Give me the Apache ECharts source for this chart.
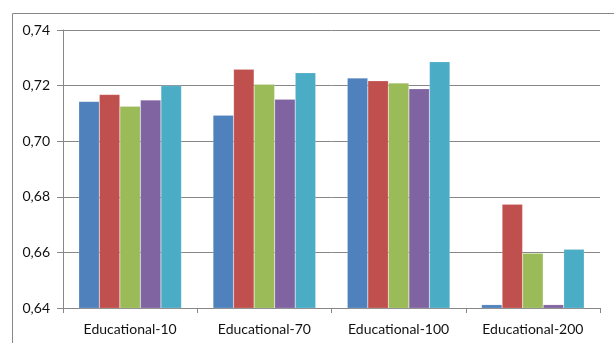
<!DOCTYPE html>
<html>
<head>
<meta charset="utf-8">
<script src="https://cdn.jsdelivr.net/npm/echarts@6/dist/echarts.min.js"></script>
<style>
  html, body { margin: 0; padding: 0; background: #fff; }
  #chart { width: 614px; height: 343px; }
</style>
</head>
<body>
<div id="chart"></div>
<script>
// Category labels along the x axis
const categories = ['Educational-10', 'Educational-70', 'Educational-100', 'Educational-200'];

// One value per category for each of the five series
const series1 = [0.7143, 0.7093, 0.7227, 0.6412];
const series2 = [0.7168, 0.7259, 0.7217, 0.6773];
const series3 = [0.7126, 0.7205, 0.7209, 0.6597];
const series4 = [0.7148, 0.7151, 0.7189, 0.6412];
const series5 = [0.7200, 0.7246, 0.7286, 0.6611];

const seriesNames = ['Serie 1', 'Serie 2', 'Serie 3', 'Serie 4', 'Serie 5'];
const seriesValues = [series1, series2, series3, series4, series5];
const seriesColors = ['#4F81BD', '#C0504D', '#9BBB59', '#8064A2', '#4BACC6'];

// Value axis range and step
const yMin = 0.64;
const yMax = 0.74;
const yStep = 0.02;

const chart = echarts.init(document.getElementById('chart'), null, { renderer: 'canvas' });

const font = 'Lato, "Open Sans", sans-serif';

chart.setOption({
  animation: false,
  backgroundColor: '#ffffff',
  textStyle: { fontFamily: font },
  graphic: [{
    type: 'rect',
    shape: { x: 12.5, y: 13.5, width: 700, height: 400 },
    style: { fill: 'none', stroke: '#878787', lineWidth: 1 },
    silent: true
  }],
  grid: { left: 63, right: 14, top: 30, bottom: 35, containLabel: false },
  xAxis: {
    type: 'category',
    data: categories,
    axisLine: { lineStyle: { color: '#878787', width: 1 } },
    axisTick: { show: true, alignWithLabel: false, length: 5, lineStyle: { color: '#878787' } },
    axisLabel: { color: '#111', fontSize: 14, fontFamily: font, margin: 14 },
    splitLine: { show: false }
  },
  yAxis: {
    type: 'value',
    min: yMin,
    max: yMax,
    interval: yStep,
    axisLine: { show: true, lineStyle: { color: '#878787', width: 1 } },
    axisTick: { show: true, inside: false, length: 6, lineStyle: { color: '#878787' } },
    axisLabel: {
      color: '#111', fontSize: 14, fontFamily: font, margin: 13,
      formatter: v => v.toFixed(2).replace('.', ',')
    },
    splitLine: { show: true, lineStyle: { color: '#878787', width: 1 } }
  },
  series: seriesValues.map((vals, i) => ({
    name: seriesNames[i],
    type: 'bar',
    data: vals,
    barGap: '0%',
    barCategoryGap: '23.5%',
    itemStyle: { color: seriesColors[i], borderColor: 'rgba(255,255,255,0.35)', borderWidth: 0.5 }
  }))
});
</script>
</body>
</html>
